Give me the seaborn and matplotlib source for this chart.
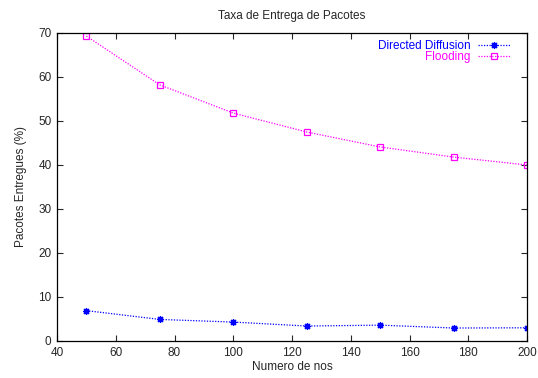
import matplotlib
matplotlib.use("Agg")
import matplotlib.pyplot as plt
import seaborn as sns
import pandas as pd

# Number of nodes in the network
nodes = [50, 75, 100, 125, 150, 175, 200]
# Packet delivery rate (%) per protocol
directed_diffusion = [6.9, 4.9, 4.3, 3.4, 3.6, 2.95, 3.0]
flooding = [69.3, 58.2, 51.8, 47.5, 44.1, 41.8, 40.0]

x_ticks = [40, 60, 80, 100, 120, 140, 160, 180, 200]
y_ticks = [0, 10, 20, 30, 40, 50, 60, 70]

df = pd.DataFrame({
    "nos": nodes * 2,
    "taxa": directed_diffusion + flooding,
    "protocolo": ["Directed Diffusion"] * len(nodes) + ["Flooding"] * len(nodes),
})

sns.set_style("ticks")
plt.rcParams["font.family"] = ["Liberation Sans", "DejaVu Sans"]

fig = plt.figure(figsize=(5.38, 3.78), dpi=100)
ax = fig.add_axes([0.106, 0.0979, 0.8736, 0.8148])

styles = {
    "Directed Diffusion": dict(color="#0000ff", marker=(8, 2, 0), mfc="#0000ff", ms=5),
    "Flooding": dict(color="#ff00ff", marker="s", mfc="none", ms=4.5),
}
for name, st in styles.items():
    sub = df[df["protocolo"] == name]
    sns.lineplot(data=sub, x="nos", y="taxa", ax=ax, color=st["color"],
                 linestyle=(0, (1, 1.2)), linewidth=0.9, marker=st["marker"],
                 markersize=st["ms"], markerfacecolor=st["mfc"],
                 markeredgecolor=st["color"], markeredgewidth=0.9, label=name)

ax.set_xlim(40, 200)
ax.set_ylim(0, 70)
ax.set_xticks(x_ticks)
ax.set_yticks(y_ticks)
ax.tick_params(direction="in", length=4, width=0.8, labelsize=8.5,
               top=True, right=True, pad=4)
for s in ax.spines.values():
    s.set_linewidth(0.9)
    s.set_color("black")

ax.set_title("Taxa de Entrega de Pacotes", fontsize=8.5, pad=10)
ax.set_xlabel("Numero de nos", fontsize=8.5, labelpad=2)
ax.set_ylabel("Pacotes Entregues (%)", fontsize=8.5, labelpad=8)

leg = ax.legend(loc="upper right", bbox_to_anchor=(0.979, 1.0), frameon=False,
                fontsize=8.5, markerfirst=False, handlelength=2.7,
                handletextpad=0.65, borderaxespad=0.2, labelspacing=-0.12)
for text, name in zip(leg.get_texts(), styles):
    text.set_color(styles[name]["color"])
    text.set_ha("right")

fig.savefig("out.png", dpi=100)
